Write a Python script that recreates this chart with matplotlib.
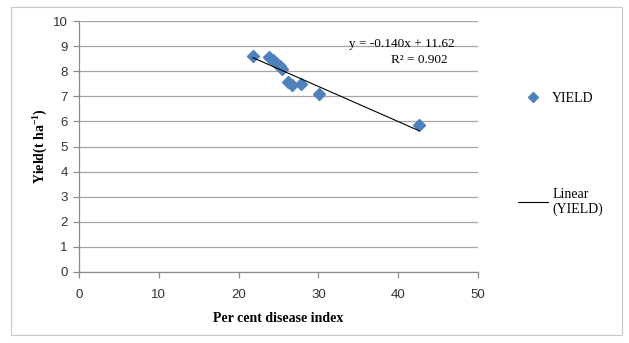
import matplotlib.pyplot as plt
import numpy as np
from matplotlib.lines import Line2D
from matplotlib.patches import Rectangle

# per cent disease index vs yield
pdi = [21.8, 23.8, 24.3, 24.7, 25.2, 25.4, 26.2, 26.7, 27.8, 30.1, 42.6]
yld = [8.62, 8.57, 8.45, 8.33, 8.20, 8.09, 7.57, 7.45, 7.48, 7.09, 5.86]
x_ticks = [0, 10, 20, 30, 40, 50]
y_ticks = list(range(0, 11))
eq_text = "y = -0.140x + 11.62"
r2_text = "R² = 0.902"

serif = "Liberation Serif"
sans = "Liberation Sans"
plt.rcParams["mathtext.fontset"] = "custom"
plt.rcParams["mathtext.rm"] = "Liberation Serif:bold"

fig = plt.figure(figsize=(6.29, 3.43), dpi=100)
fig.patches.append(Rectangle((11 / 629, 8 / 343), 611 / 629, 328 / 343,
                             transform=fig.transFigure, fill=False,
                             edgecolor="#c8c8c8", linewidth=0.8))

ax = fig.add_axes([79 / 629, 1 - 272 / 343, 399 / 629, 251 / 343])
ax.set_xlim(0, 50)
ax.set_ylim(0, 10)
ax.set_xticks(x_ticks)
ax.set_yticks(y_ticks)
ax.yaxis.grid(True, color="#a6a6a6", linewidth=0.9)
ax.set_axisbelow(True)
for s in ["top", "right"]:
    ax.spines[s].set_visible(False)
for s in ["left", "bottom"]:
    ax.spines[s].set_color("#8c8c8c")
    ax.spines[s].set_linewidth(0.9)
ax.tick_params(colors="#8c8c8c", length=4, width=0.9, labelsize=9.5,
               labelcolor="#333333")
ax.tick_params(axis="x", pad=8)
ax.tick_params(axis="y", pad=4)
for lab in ax.get_xticklabels() + ax.get_yticklabels():
    lab.set_fontfamily(sans)

ax.plot(pdi, yld, "D", color="#4f81bd", markersize=6.5, zorder=3)

slope, icpt = np.polyfit(pdi, yld, 1)
xs = np.array([min(pdi), max(pdi)])
ax.plot(xs, slope * xs + icpt, color="black", linewidth=0.8, zorder=4)

ax.text(455 / 629, 1 - 44 / 343, eq_text, transform=fig.transFigure,
        ha="right", va="center", fontsize=9.5, family=serif)
ax.text(448 / 629, 1 - 60 / 343, r2_text, transform=fig.transFigure,
        ha="right", va="center", fontsize=9.5, family=serif)

ax.set_xlabel("Per cent disease index", fontsize=10, fontweight="bold",
              family=serif, labelpad=8)
ax.set_ylabel("Yield(t ha$^{-1}$)", fontsize=10, fontweight="bold",
              family=serif, labelpad=3)

handles = [Line2D([], [], marker="D", color="#4f81bd", linestyle="none",
                  markersize=5),
           Line2D([], [], color="black", linewidth=0.8)]
fig.legend(handles, ["YIELD", "Linear\n(YIELD)"], loc="upper left",
           bbox_to_anchor=(505 / 629, 1 - 79 / 343), frameon=False,
           prop={"family": serif, "size": 10}, labelspacing=6.0,
           handlelength=2.2, handletextpad=0.3)

fig.savefig("out.png", dpi=100)
